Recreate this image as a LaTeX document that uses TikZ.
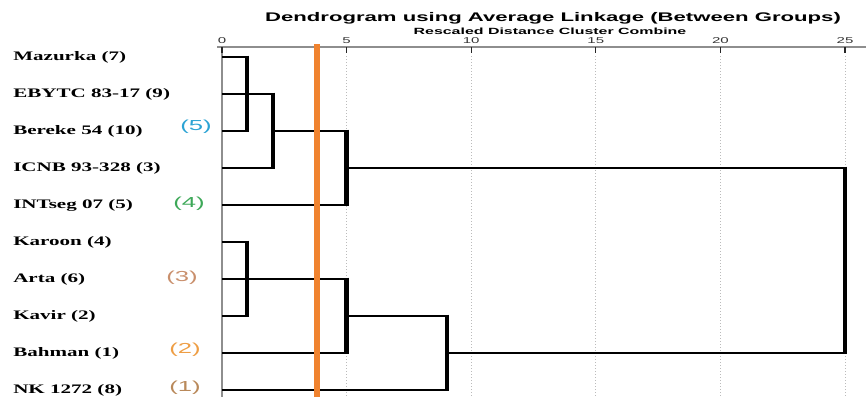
\documentclass[tikz,border=0pt]{standalone}
\usepackage{fontspec}
\usetikzlibrary{positioning}
\newfontfamily\leaffont[FakeStretch=1.62]{Liberation Serif}
\newfontfamily\headfont[FakeStretch=1.77]{Liberation Sans}
\definecolor{cutorange}{HTML}{F0832F}
\definecolor{axisgray}{HTML}{8E8E8E}
\definecolor{tagblue}{HTML}{2BA3D4}
\definecolor{taggreen}{HTML}{3DA858}
\definecolor{tagbrown}{HTML}{C98F6C}
\definecolor{tagorange}{HTML}{EE9E45}
\definecolor{tagdark}{HTML}{B9895A}
\tikzstyle{leaf}=[anchor=west,inner sep=0pt,font=\leaffont\bfseries\fontsize{13}{15}\selectfont]
\tikzstyle{tag}=[inner sep=0pt,font=\headfont\fontsize{14.5}{16}\selectfont]
\tikzstyle{hbar}=[line width=2.7pt]
\tikzstyle{vbar}=[line width=4.2pt]
\tikzset{every picture/.style={line width=0.5pt}}

\begin{document}
\begin{tikzpicture}[x=1pt,y=-1pt]
\useasboundingbox (0,0) rectangle (867,397);
% title and axis
\node (title) at (553,18) {\headfont\bfseries\fontsize{12.5}{15}\selectfont Dendrogram using Average Linkage (Between Groups)};
\node (sub) at (550,31) {\headfont\bfseries\fontsize{9}{11}\selectfont Rescaled Distance Cluster Combine};
\draw[axisgray,line width=1.3pt] (217,47) -- (866,47);
\draw[axisgray,line width=1.3pt] (222,47) -- (222,397);
\foreach \d in {0,5,...,25}{
  \node[inner sep=0pt,font=\headfont\fontsize{8.5}{9}\selectfont,black!80] at (222+24.92*\d,41) {\d};
  \draw[black!85,line width=1.2pt] (222+24.92*\d,47) -- (222+24.92*\d,53);
}
\foreach \d in {5,10,...,25}
  \draw[axisgray!60,dotted,line width=1pt] (222+24.92*\d,56) -- (222+24.92*\d,397);

% varieties
\node[leaf] (mazl) at (13,57) {Mazurka (7)};
\node[leaf] (ebyl) at (13,94) {EBYTC 83-17 (9)};
\node[leaf] (berl) at (13,131) {Bereke 54 (10)};
\node[leaf] (icnl) at (13,168) {ICNB 93-328 (3)};
\node[leaf] (intl) at (13,205) {INTseg 07 (5)};
\node[leaf] (karl) at (13,242) {Karoon (4)};
\node[leaf] (artl) at (13,279) {Arta (6)};
\node[leaf] (kavl) at (13,316) {Kavir (2)};
\node[leaf] (bahl) at (13,353) {Bahman (1)};
\node[leaf] (nkl) at (13,390) {NK 1272 (8)};

% cluster tags
\node[tag,tagblue] (g5) at (196,127) {(5)};
\node[tag,taggreen] (g4) at (189,204) {(4)};
\node[tag,tagbrown] (g3) at (182,278) {(3)};
\node[tag,tagorange] (g2) at (185,350) {(2)};
\node[tag,tagdark] (g1) at (185,388) {(1)};

% leaf ends
\coordinate (maz) at (222,57);
\coordinate (eby) at (222,94);
\coordinate (ber) at (222,131);
\coordinate (icn) at (222,168);
\coordinate (int) at (222,205);
\coordinate (kar) at (222,242);
\coordinate (art) at (222,279);
\coordinate (kav) at (222,316);
\coordinate (bah) at (222,353);
\coordinate (nk) at (222,390);

% merges
\coordinate (a1t) at (247,57);  \coordinate (a1) at (247,94);  \coordinate (a1b) at (247,131);
\coordinate (b1t) at (273,94);  \coordinate (b1) at (273,131); \coordinate (b1b) at (273,168);
\coordinate (c1t) at (346.5,131); \coordinate (c1) at (346.5,168); \coordinate (c1b) at (346.5,205);
\coordinate (d1t) at (247,242); \coordinate (d1) at (247,279); \coordinate (d1b) at (247,316);
\coordinate (e1t) at (346.5,279); \coordinate (e1) at (346.5,316); \coordinate (e1b) at (346.5,353);
\coordinate (f1t) at (447,316); \coordinate (f1) at (447,353); \coordinate (f1b) at (447,390);
\coordinate (r1t) at (845,168); \coordinate (r1b) at (845,353);

\path[hbar]
(maz) edge (a1t)
(eby) edge (a1)
(ber) edge (a1b)
(a1) edge (b1t)
(icn) edge (b1b)
(b1) edge (c1t)
(int) edge (c1b)
(c1) edge (r1t)
(kar) edge (d1t)
(art) edge (d1)
(kav) edge (d1b)
(d1) edge (e1t)
(bah) edge (e1b)
(e1) edge (f1t)
(nk) edge (f1b)
(f1) edge (r1b);
\path[vbar,shorten <=-1.3pt,shorten >=-1.3pt]
(a1t) edge (a1b)
(b1t) edge (b1b)
(c1t) edge (c1b)
(d1t) edge (d1b)
(e1t) edge (e1b)
(f1t) edge (f1b)
(r1t) edge (r1b);

% cut line
\coordinate (cuttop) at (317,44);
\coordinate (cutbot) at (317,397);
\draw[cutorange,line width=6pt] (cuttop) -- (cutbot);
\end{tikzpicture}
\end{document}
